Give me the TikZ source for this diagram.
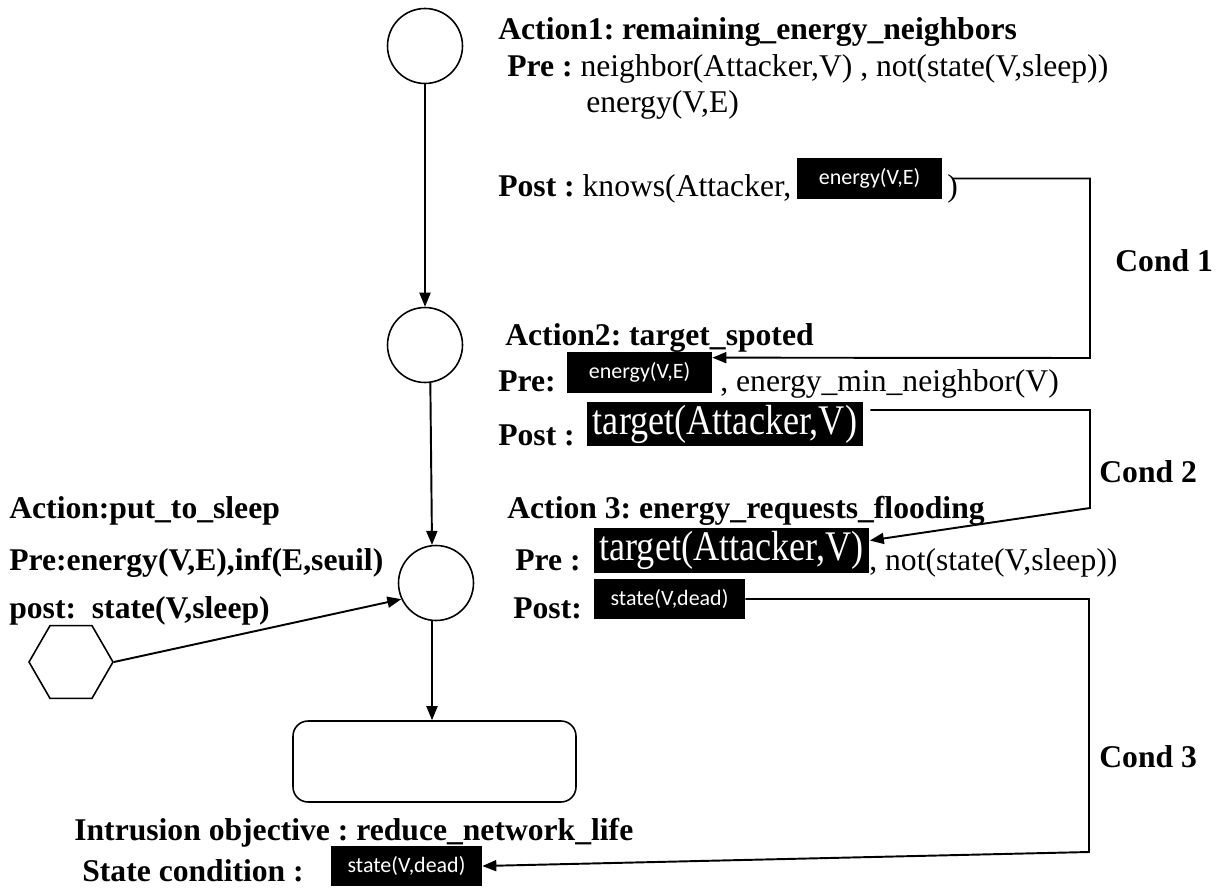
\documentclass[tikz,border=0pt]{standalone}
\usepackage{fontspec}
\setmainfont{Liberation Serif}
\newfontfamily\boxfont{Carlito}
\usepackage{graphicx}
\usetikzlibrary{arrows.meta,shapes.geometric}
\frenchspacing

\tikzset{
  txt/.style={anchor=base west, inner sep=0pt, font=\fontsize{18}{22}\selectfont},
  hl/.style={fill=black, text=white, inner sep=0pt, minimum width=2.9cm,
    minimum height=0.82cm, font=\boxfont\fontsize{12.5}{15}\selectfont},
  hlbig/.style={fill=black, text=white, inner sep=0pt, minimum width=5.52cm,
    minimum height=0.89cm, font=\fontsize{20}{24}\selectfont},
  st/.style={draw, circle, minimum size=1.5cm, inner sep=0pt, line width=0.9pt},
  arr/.style={line width=1.1pt, -{Triangle[length=0.28cm,width=0.22cm]}},
}

\begin{document}
\begin{tikzpicture}[x=0.02cm, y=-0.02cm]
  \useasboundingbox (0,0) rectangle (1222,888);

  % states
  \node[st] (c1) at (425,46) {};
  \node[st] (c2) at (425,345) {};
  \node[st] (c3) at (436,583) {};
  \node[draw, rounded corners=0.3cm, minimum width=5.66cm, minimum height=1.62cm,
    line width=0.9pt] (goal) at (434.5,761.5) {};
  \node[draw, regular polygon, regular polygon sides=6, minimum size=1.68cm,
    inner sep=0pt, line width=0.9pt] (hexa) at (71,662) {};

  \draw[arr] (c1.south) -- (c2.north);
  \draw[arr] (c2.-82) -- (c3.96);
  \draw[arr] (c3.-96) -- (c3.-96 |- goal.north);
  \draw[arr] (hexa.east) -- (c3.205);

  % action 1
  \node[txt] (a1) at (498,40) {\textbf{Action1: remaining\_energy\_neighbors}};
  \node[txt] (pre1) at (507,77) {\textbf{Pre :} neighbor(Attacker,V) , not(state(V,sleep))};
  \node[txt] (pre1b) at (586,113) {energy(V,E)};
  \node[txt] (post1) at (498,197) {\textbf{Post :} knows(Attacker,};
  \node[hl] (k1) at (869.5,178.5) {energy(V,E)};
  \node[txt] (close1) at (947,197) {)};

  % action 2
  \node[txt] (a2) at (505,345) {\textbf{Action2: target\_spoted}};
  \node[txt] (pre2) at (498,391) {\textbf{Pre:}};
  \node[hl] (p2) at (639.5,372.5) {energy(V,E)};
  \node[txt] (rest2) at (720,391) {, energy\_min\_neighbor(V)};
  \node[txt] (post2) at (498,445) {\textbf{Post :}};
  \node[hlbig] (t2) at (725,424) {\scalebox{1.03}[1.2]{target(Attacker,V)}};

  % action 3
  \node[txt] (a3) at (507,518) {\textbf{Action 3: energy\_requests\_flooding}};
  \node[txt] (pre3) at (515,570) {\textbf{Pre :}};
  \node[hlbig] (t3) at (731.5,550.5) {\scalebox{1.03}[1.2]{target(Attacker,V)}};
  \node[txt] (rest3) at (869,570) {, not(state(V,sleep))};
  \node[txt] (post3) at (513,618) {\textbf{Post:}};
  \node[hl, minimum width=3.02cm, minimum height=0.8cm] (s3) at (669.5,599) {state(V,dead)};

  % put to sleep
  \node[txt] (sl1) at (9,518) {\textbf{Action:put\_to\_sleep}};
  \node[txt] (sl2) at (9,570) {\textbf{Pre:energy(V,E),inf(E,seuil)}};
  \node[txt] (sl3) at (9,618) {\textbf{post:\ \ state(V,sleep)}};

  % objective
  \node[txt] (obj) at (74,840) {\textbf{Intrusion objective : reduce\_network\_life}};
  \node[txt] (sc) at (82,881) {\textbf{State condition :}};
  \node[hl, minimum width=3.02cm, minimum height=0.8cm] (s4) at (406.5,866) {state(V,dead)};

  % conditions
  \draw[arr] ([xshift=0.2cm]k1.east) -| (1090,358) -- ([yshift=-0.12cm]p2.north east);
  \node[txt] (cd1) at (1115,272) {\textbf{Cond 1}};
  \draw[arr] ([xshift=0.14cm,yshift=0.28cm]t2.east) -| (1090,508) -- ([yshift=0.2cm]t3.east);
  \node[txt] (cd2) at (1099,482) {\textbf{Cond 2}};
  \draw[arr] (s3.east) -| (1089,852) -- (s4.east);
  \node[txt] (cd3) at (1099,767) {\textbf{Cond 3}};
\end{tikzpicture}
\end{document}
